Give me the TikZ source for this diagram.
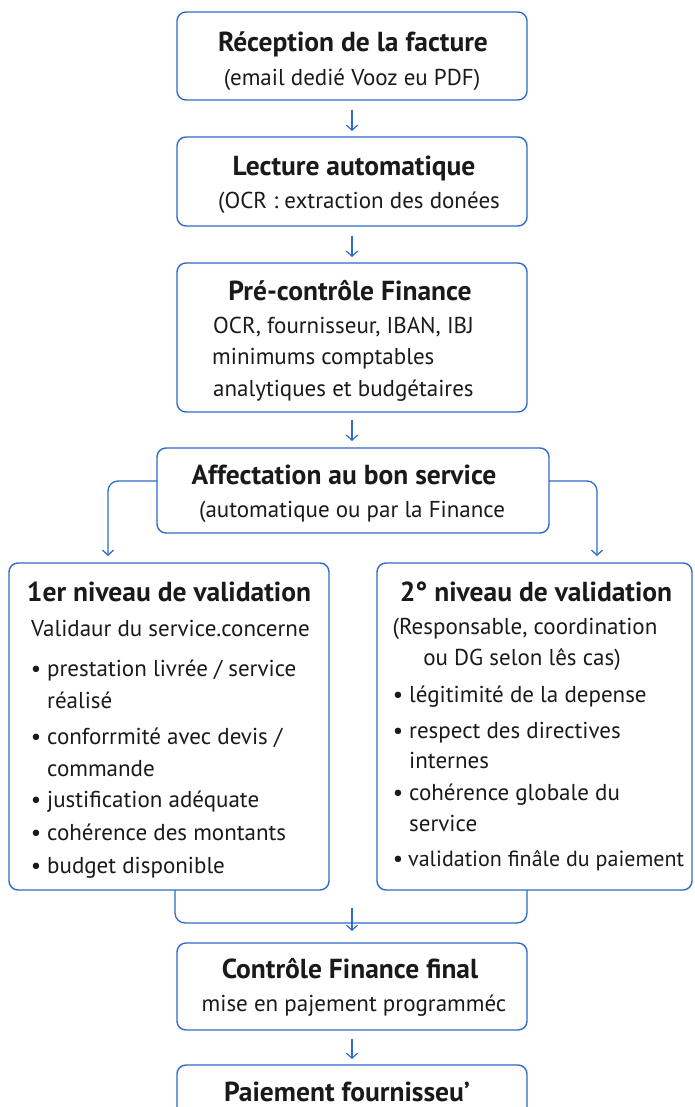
\documentclass[tikz,border=0pt]{standalone}
\usepackage{fontspec}
\setmainfont{PT Sans}
\usetikzlibrary{arrows.meta,calc}
\definecolor{bblue}{HTML}{2F6BC9}
\definecolor{tblack}{HTML}{1A1A1A}
\begin{document}
\begin{tikzpicture}[x=1pt,y=-1pt,
  box/.style={draw=bblue,line width=1.4pt,rounded corners=9pt,fill=white},
  ttl/.style={font=\fontsize{27.5}{32}\selectfont\bfseries,text=tblack,anchor=mid,inner sep=0pt},
  bod/.style={font=\fontsize{23}{27}\selectfont,text=tblack,anchor=mid,inner sep=0pt},
  bodl/.style={bod,anchor=mid west},
  bul/.style={bod,anchor=mid},
  arr/.style={draw=bblue,line width=1.2pt,-{Straight Barb[length=5pt,width=11pt]}},
  lin/.style={draw=bblue,line width=1.3pt,rounded corners=10pt}]
\useasboundingbox[fill=white] (0,0) rectangle (694,1107);
% boxes
\path[box] (177,12) rectangle (527,100) node[pos=.5,inner sep=0pt] (b1) {};
\path[box] (177,137) rectangle (527,226) node[pos=.5,inner sep=0pt] (b2) {};
\path[box] (177,263) rectangle (527,412) node[pos=.5,inner sep=0pt] (b3) {};
\path[box] (157,448) rectangle (549,533) node[pos=.5,inner sep=0pt] (b4) {};
\path[box] (9,563) rectangle (329,890) node[pos=.5,inner sep=0pt] (b5) {};
\path[box] (377,563) rectangle (692,890) node[pos=.5,inner sep=0pt] (b6) {};
\path[box] (177,943) rectangle (527,1030) node[pos=.5,inner sep=0pt] (b7) {};
\path[box] (177,1065) rectangle (527,1150) node[pos=.5,inner sep=0pt] (b8) {};
% named anchors of boxes
\coordinate (b1s) at (352,100); \coordinate (b2n) at (352,137);
\coordinate (b2s) at (352,226); \coordinate (b3n) at (352,263);
\coordinate (b3s) at (352,412); \coordinate (b4n) at (352,448);
\coordinate (b4w) at (157,481); \coordinate (b4e) at (549,481);
\coordinate (b5n) at (108,563); \coordinate (b6n) at (597,563);
\coordinate (b5s) at (175,890); \coordinate (b6s) at (527,890);
\coordinate (mj) at (352,923); \coordinate (mjt) at (352,908);
\coordinate (b7n) at (352,943); \coordinate (b7s) at (352,1030);
\coordinate (b8n) at (352,1065);
% texts
\begin{scope}[shift={(0,6)}]
\node[ttl] (t1a) at (353,43) {Réception de la facture};
\node[bod] (t1b) at (352,77) {(email dedié Vooz eu PDF)};
\node[ttl] (t2a) at (354,167) {Lecture automatique};
\node[bod] (t2b) at (359,200) {(OCR : extraction des donées};
\node[ttl] (t3a) at (350,292) {Pré-contrôle Finance};
\node[bodl] (t3b) at (213,325) {OCR, fournisseur, IBAN, IBJ};
\node[bodl] (t3c) at (212,356) {minimums comptables};
\node[bodl] (t3d) at (213,388) {analytiques et budgétaires};
\node[ttl] (t4a) at (344,476) {Affectation au bon service};
\node[bod] (t4b) at (352,509) {(automatique ou par la Finance};
\node[ttl] (t5a) at (169,593) {1er niveau de validation};
\node[bodl] (t5b) at (31,628) {Validaur du service.concerne};
\node[bul] (u5c) at (36,668) {•}; \node[bodl] (t5c) at (47,668) {prestation livrée / service};
\node[bodl] (t5d) at (47,700) {réalisé};
\node[bul] (u5e) at (36,736) {•}; \node[bodl] (t5e) at (47,736) {conforrmité avec devis /};
\node[bodl] (t5f) at (47,768) {commande};
\node[bul] (u5g) at (36,799) {•}; \node[bodl] (t5g) at (47,799) {justification adéquate};
\node[bul] (u5h) at (36,832) {•}; \node[bodl] (t5h) at (47,832) {cohérence des montants};
\node[bul] (u5i) at (36,865) {•}; \node[bodl] (t5i) at (47,865) {budget disponible};
\node[ttl] (t6a) at (536,593) {2° niveau de validation};
\node[bod] (t6b) at (525,626) {(Responsable, coordination};
\node[bod] (t6c) at (522,657) {ou DG selon lês cas)};
\node[bul] (u6d) at (398,694) {•}; \node[bodl] (t6d) at (409,694) {légitimité de la depense};
\node[bul] (u6e) at (398,730) {•}; \node[bodl] (t6e) at (409,730) {respect des directives};
\node[bodl] (t6f) at (409,760) {internes};
\node[bul] (u6g) at (398,792) {•}; \node[bodl] (t6g) at (409,792) {cohérence globale du};
\node[bodl] (t6h) at (409,823) {service};
\node[bul] (u6i) at (398,858) {•}; \node[bodl,font=\fontsize{22}{26}\selectfont] (t6i) at (408,858) {validation finâle du paiement};
\node[ttl] (t7a) at (350,970) {Contrôle Finance final};
\node[bod] (t7b) at (354,1003) {mise en pajement programméc};
\node[ttl] (t8a) at (347,1093) {Paiement fournisseu'};
\end{scope}
% connectors
\draw[arr,shorten <=10pt,shorten >=6pt] (b1s) -- (b2n);
\draw[arr,shorten <=10pt,shorten >=6pt] (b2s) -- (b3n);
\draw[arr,shorten <=8pt,shorten >=7pt] (b3s) -- (b4n);
\draw[arr,lin,shorten >=7pt] (b4w) -| (b5n);
\draw[arr,lin,shorten >=7pt] (b4e) -| (b6n);
\draw[lin] (b5s) |- (mj) -| (b6s);
\draw[arr,shorten >=12pt] (mjt) -- (b7n);
\draw[arr,shorten <=9pt,shorten >=6pt] (b7s) -- (b8n);
\end{tikzpicture}
\end{document}
